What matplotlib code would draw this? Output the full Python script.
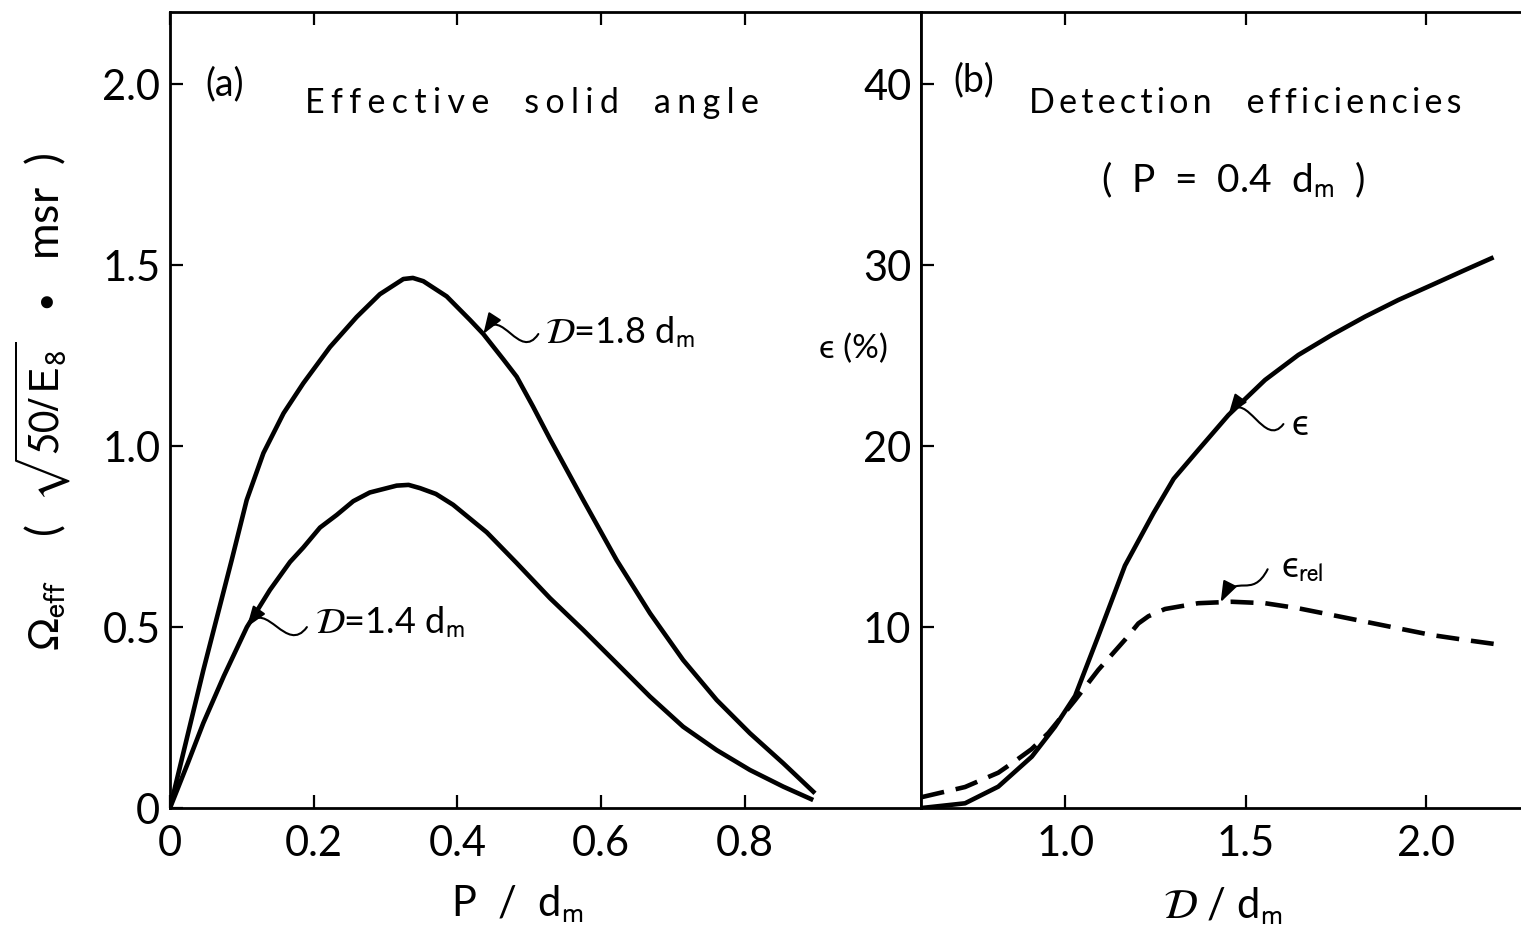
import numpy as np
import matplotlib
matplotlib.use('Agg')
import matplotlib.pyplot as plt
from matplotlib.path import Path
from matplotlib.patches import FancyArrowPatch
from matplotlib.transforms import ScaledTranslation

plt.rcParams['font.family'] = ['Lato', 'DejaVu Sans']
plt.rcParams['mathtext.fontset'] = 'stixsans'

# (a) effective solid angle vs P/dm
p_18 = [0, 0.0464, 0.0858, 0.1067, 0.130, 0.158, 0.1855, 0.2226, 0.2597, 0.292,
        0.3247, 0.338, 0.3525, 0.385, 0.4174, 0.436, 0.4638, 0.4824, 0.505, 0.5287,
        0.575, 0.6215, 0.668, 0.714, 0.7607, 0.807, 0.8534, 0.8975]
om_18 = [0, 0.381, 0.685, 0.851, 0.981, 1.091, 1.174, 1.274, 1.357, 1.42,
         1.462, 1.465, 1.456, 1.414, 1.349, 1.31, 1.24, 1.192, 1.11, 1.02,
         0.851, 0.685, 0.538, 0.409, 0.2985, 0.2065, 0.1235, 0.0406]

p_14 = [0, 0.025, 0.0464, 0.075, 0.107, 0.139, 0.167, 0.1855, 0.2087, 0.232,
        0.255, 0.278, 0.3154, 0.332, 0.348, 0.37, 0.394, 0.4407, 0.4824, 0.5287,
        0.575, 0.6215, 0.668, 0.714, 0.7607, 0.807, 0.8534, 0.895]
om_14 = [0, 0.125, 0.235, 0.365, 0.50, 0.6025, 0.68, 0.72, 0.775, 0.81,
         0.848, 0.872, 0.891, 0.893, 0.884, 0.868, 0.838, 0.762, 0.677, 0.58,
         0.492, 0.40, 0.3077, 0.2247, 0.16, 0.105, 0.059, 0.022]

# (b) detection efficiencies vs D/dm  (P = 0.4 dm)
d_eps = [0.602, 0.722, 0.814, 0.907, 0.971, 1.027, 1.091, 1.165, 1.244, 1.30,
         1.368, 1.4515, 1.553, 1.645, 1.738, 1.83, 1.922, 2.015, 2.107, 2.186]
eps = [0.0, 0.26, 1.18, 2.84, 4.49, 6.2, 9.5, 13.4, 16.3, 18.2,
       19.79, 21.72, 23.66, 25.04, 26.15, 27.16, 28.08, 28.91, 29.74, 30.44]

d_rel = [0.602, 0.722, 0.814, 0.861, 0.906, 0.953, 1.027, 1.091, 1.165, 1.202,
         1.23, 1.276, 1.368, 1.461, 1.553, 1.645, 1.738, 1.83, 1.922, 2.015,
         2.107, 2.209]
eps_rel = [0.6, 1.16, 1.95, 2.6, 3.25, 4.15, 5.97, 7.63, 9.3, 10.2,
           10.6, 11.0, 11.32, 11.4, 11.32, 11.04, 10.67, 10.3, 9.93, 9.56,
           9.29, 9.01]

x1_ticks = [0, 0.2, 0.4, 0.6, 0.8]
x1_labels = ['0', '0.2', '0.4', '0.6', '0.8']
y1_ticks = [0, 0.5, 1.0, 1.5, 2.0]
y1_labels = ['0', '0.5', '1.0', '1.5', '2.0']
x2_ticks = [1.0, 1.5, 2.0]
x2_labels = ['1.0', '1.5', '2.0']
y2_ticks = [10, 20, 30, 40]
y2_labels = ['10', '20', '30', '40']


def spaced(*words, gap=4, sep='\u2009\u200a'):
    # wide lettering: small spaces between letters, wide word gaps
    return (' ' * gap).join(sep.join(w) for w in words)


def squiggle(ax, tip, dx, dy, h=0.28):
    # wavy leader (sizes in inches) ending with an arrow head on the curve
    verts = [(dx, dy), (0.66 * dx, 0.66 * dy - h), (0.33 * dx, 0.33 * dy + h), (0, 0)]
    codes = [Path.MOVETO, Path.CURVE4, Path.CURVE4, Path.CURVE4]
    trans = ax.figure.dpi_scale_trans + ScaledTranslation(tip[0], tip[1], ax.transData)
    arr = FancyArrowPatch(path=Path(verts, codes),
                          arrowstyle='-|>,head_length=0.7,head_width=0.25',
                          mutation_scale=18, color='k', lw=1.5,
                          transform=trans)
    ax.add_patch(arr)


fig = plt.figure(figsize=(15.21, 9.34), dpi=100)
ax1 = fig.add_axes([170 / 1521, 126 / 934, 751 / 1521, 796 / 934])
ax2 = fig.add_axes([921 / 1521, 126 / 934, 600 / 1521, 796 / 934])

LW = 3.3
ax1.plot(p_18, om_18, color='k', lw=LW, solid_capstyle='butt')
ax1.plot(p_14, om_14, color='k', lw=LW, solid_capstyle='butt')
ax2.plot(d_eps, eps, color='k', lw=LW, solid_capstyle='butt')
ax2.plot(d_rel, eps_rel, color='k', lw=LW, dashes=(5, 2.6))

ax1.set_xlim(0, 1.045)
ax1.set_ylim(0, 2.2)
ax2.set_xlim(0.6, 2.262)
ax2.set_ylim(0, 44)

for ax in (ax1, ax2):
    for s in ax.spines.values():
        s.set_linewidth(2.0)
    ax.tick_params(direction='in', length=9.5, width=1.6, top=True,
                   right=False, labelsize=30)
    ax.tick_params(axis='x', pad=12)
    ax.tick_params(axis='y', pad=7)
ax2.spines['right'].set_visible(False)

ax1.set_xticks(x1_ticks, x1_labels)
ax1.set_yticks(y1_ticks, y1_labels)
ax2.set_xticks(x2_ticks, x2_labels)
ax2.set_yticks(y2_ticks, y2_labels)

fs_ann = 26

# curve labels with wavy leaders
squiggle(ax1, (0.436, np.interp(0.436, p_18, om_18)), 0.55, 0.0)
ax1.text(0.522, 1.315, r'$\mathcal{D}$=1.8 d$_{\rm m}$', fontsize=fs_ann,
         va='center', ha='left')

squiggle(ax1, (0.107, np.interp(0.107, p_14, om_14)), 0.6, 0.0)
ax1.text(0.202, 0.515, r'$\mathcal{D}$=1.4 d$_{\rm m}$', fontsize=fs_ann,
         va='center', ha='left')

squiggle(ax2, (1.4515, np.interp(1.4515, d_eps, eps)), 0.55, -0.09)
ax2.text(1.626, 21.2, '\u03f5', fontsize=fs_ann, va='center', ha='left')

squiggle(ax2, (1.43, np.interp(1.43, d_rel, eps_rel)), 0.47, 0.33, h=0.2)
ax2.text(1.596, 13.3, '\u03f5$_{\\rm rel}$', fontsize=fs_ann,
         va='center', ha='left')

# panel headings
ax1.text(0.049, 2.0, '(a)', fontsize=27, va='center', ha='left')
ax1.text(0.188, 1.921, spaced('Effective', 'solid', 'angle'),
         fontsize=24.5, va='baseline', ha='left')
ax2.text(0.69, 40.2, '(b)', fontsize=27, va='center', ha='left')
ax2.text(0.898, 38.4, spaced('Detection', 'efficiencies', sep='\u2009'),
         fontsize=24.5, va='baseline', ha='left')
ax2.text(1.465, 34.7, '(  P  =  0.4  d$_{\\rm m}$  )', fontsize=28,
         va='center', ha='center')
ax2.text(0.413, 25.4, '\u03f5 (%)', fontsize=24, va='center',
         ha='center', clip_on=False)

# axis labels
ax1.text(0.462, -0.12, r'P  /  d$_{\rm m}$', transform=ax1.transAxes,
         fontsize=30, va='center', ha='center')
ax2.text(0.502, -0.123, r'$\mathcal{D}$ / d$_{\rm m}$', transform=ax2.transAxes,
         fontsize=30, va='center', ha='center')
fig.text(0.028, 0.57,
         r'$\Omega_{\rm eff}$    (  $\sqrt{50/\,{\rm E}_8}$   $\bullet$   msr  )',
         rotation=90, fontsize=32, va='center', ha='center')

fig.savefig('out.png', dpi=100)
